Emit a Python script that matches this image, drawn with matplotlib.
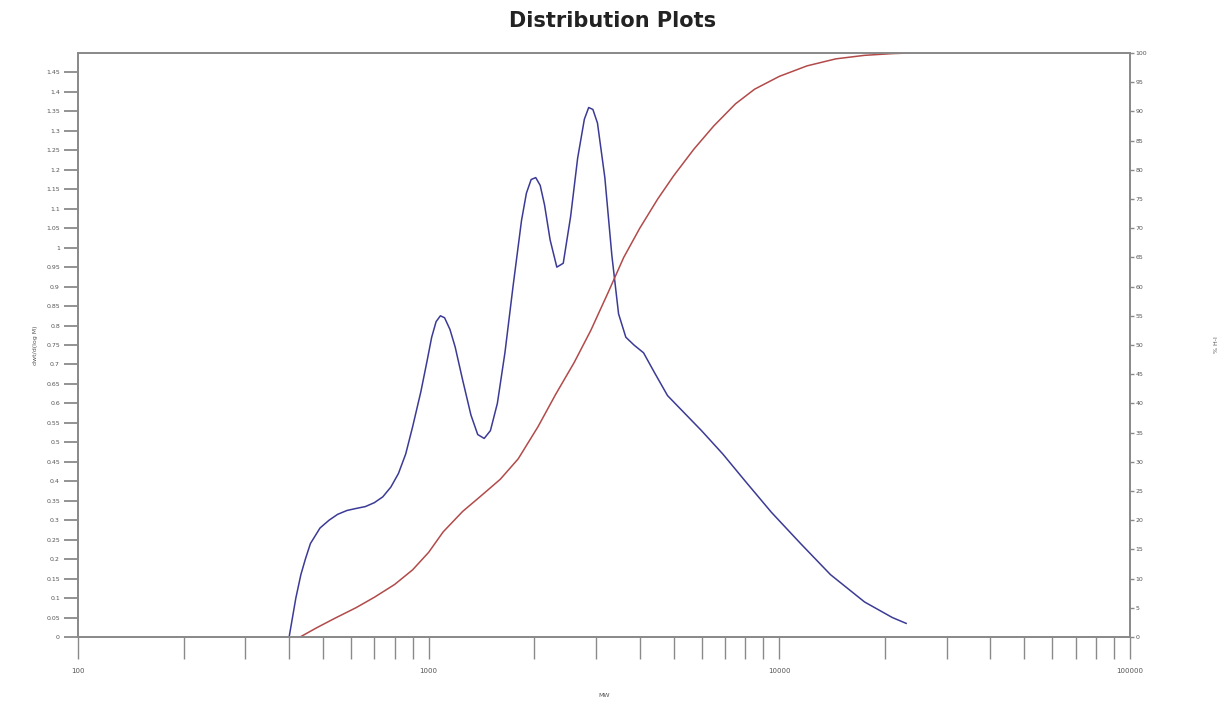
import numpy as np
import matplotlib.pyplot as plt
from matplotlib.ticker import FixedLocator, NullFormatter, LogLocator

# molecular weight (x) and dw/dlogM (left axis)
mw_dist = [400, 418, 432, 445, 460, 490, 520, 550, 585, 620, 660, 700, 740, 780, 820,
           860, 900, 950, 990, 1020, 1050, 1080, 1110, 1150, 1190, 1250, 1320, 1380,
           1440, 1500, 1570, 1650, 1740, 1840, 1900, 1960, 2020, 2080, 2140, 2220,
           2320, 2420, 2540, 2660, 2780, 2860, 2940, 3030, 3180, 3330, 3480, 3650,
           3850, 4100, 4400, 4800, 5300, 6000, 6900, 8000, 9500, 11500, 14000, 17500,
           21000, 23000]
dwdlogm = [0.0, 0.10, 0.16, 0.20, 0.24, 0.28, 0.30, 0.315, 0.325, 0.33, 0.335, 0.345,
           0.36, 0.385, 0.42, 0.47, 0.54, 0.63, 0.71, 0.77, 0.81, 0.825, 0.82, 0.79,
           0.745, 0.66, 0.57, 0.52, 0.51, 0.53, 0.60, 0.73, 0.90, 1.07, 1.14, 1.175,
           1.18, 1.16, 1.11, 1.02, 0.95, 0.96, 1.08, 1.23, 1.33, 1.36, 1.355, 1.32,
           1.18, 0.98, 0.83, 0.77, 0.75, 0.73, 0.68, 0.62, 0.58, 0.53, 0.47, 0.40,
           0.32, 0.24, 0.16, 0.09, 0.05, 0.035]

# cumulative percent (right axis)
mw_cum = [430, 480, 540, 620, 700, 800, 900, 1000, 1100, 1250, 1400, 1600, 1800,
          2050, 2300, 2600, 2900, 3250, 3600, 4000, 4500, 5000, 5700, 6500, 7500,
          8500, 10000, 12000, 14500, 17500, 21000, 23500]
cum_pct = [0.0, 1.6, 3.2, 5.0, 6.8, 9.0, 11.5, 14.5, 18.0, 21.5, 24.0, 27.0, 30.5,
           36.0, 41.5, 47.0, 52.5, 59.0, 65.0, 70.0, 75.0, 79.0, 83.5, 87.5, 91.3,
           93.8, 96.0, 97.8, 99.0, 99.6, 99.9, 100.0]

fig = plt.figure(figsize=(12.25, 7.04), dpi=100)
ax = fig.add_axes([0.0637, 0.0952, 0.8587, 0.8295])
ax2 = ax.twinx()

gray = '#8a8a8a'
ax.plot(mw_dist, dwdlogm, color='#3b3b96', lw=1.1)
ax2.plot(mw_cum, cum_pct, color='#b24a4a', lw=1.1)

ax.set_xscale('log')
ax.set_xlim(100, 100000)
ax.set_ylim(0, 1.5)
ax2.set_ylim(0, 100)

ax.xaxis.set_major_locator(FixedLocator([100, 1000, 10000, 100000]))
ax.set_xticklabels(['100', '1000', '10000', '100000'])
ax.xaxis.set_minor_locator(LogLocator(base=10, subs=np.arange(2, 10)))
ax.xaxis.set_minor_formatter(NullFormatter())
ax.tick_params(axis='x', which='both', direction='out', length=16, width=1,
               color=gray, labelsize=5, labelcolor='#555555', pad=6)

yt = np.round(np.arange(0, 1.46, 0.05), 2)
ax.set_yticks(yt)
ax.set_yticklabels([('%g' % v) for v in yt])
ax.tick_params(axis='y', direction='out', length=10, width=1.3, color=gray,
               labelsize=4.5, labelcolor='#555555', pad=3)

ax2.set_yticks(np.arange(0, 101, 5))
ax2.tick_params(axis='y', direction='out', length=3, width=1, color=gray,
                labelsize=4.5, labelcolor='#555555', pad=1)

for a in (ax, ax2):
    for s in a.spines.values():
        s.set_color(gray)
        s.set_linewidth(1.3)

ax.set_xlabel('MW', fontsize=4.5, color='#555555', labelpad=14)
ax.set_ylabel('dwt/d(log M)', fontsize=4.5, color='#555555', labelpad=6)
ax2.set_ylabel('% H-I', fontsize=4.5, color='#555555', labelpad=48)

fig.suptitle('Distribution Plots', y=0.985, fontsize=15, fontweight='bold',
             color='#222222')

plt.savefig('out.png', dpi=100)
